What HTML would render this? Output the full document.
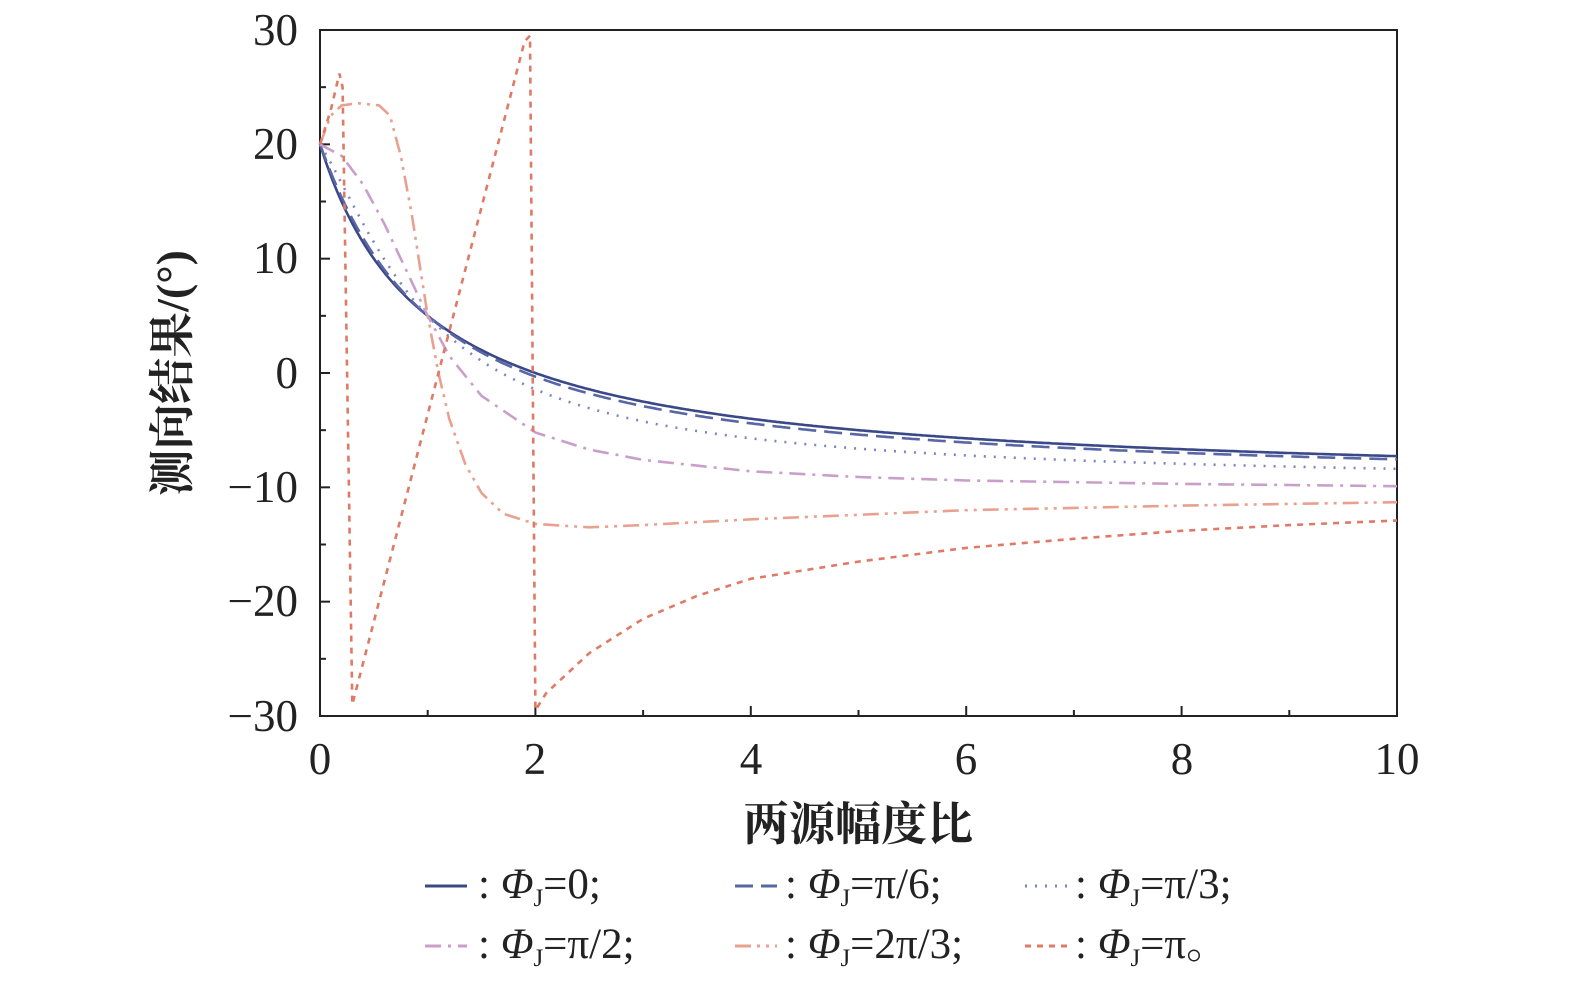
<!DOCTYPE html>
<html><head><meta charset="utf-8"><style>
html,body{margin:0;padding:0;background:#fff;}
svg{display:block;}
text{font-family:"Liberation Serif","Noto Serif CJK SC",serif;fill:#222;}
</style></head><body>
<svg id="s" width="1575" height="993" xmlns="http://www.w3.org/2000/svg">
<rect x="320" y="30" width="1077" height="686" fill="none" stroke="#222" stroke-width="2"/>
<g id="ticks" stroke="#222" stroke-width="2"></g>
<g id="curves" fill="none" stroke-width="2.6"></g>
<g font-size="45" text-anchor="end">
<text x="298" y="45">30</text><text x="298" y="159">20</text><text x="298" y="273">10</text>
<text x="298" y="388">0</text><text x="298" y="502">−10</text><text x="298" y="616">−20</text><text x="298" y="731">−30</text>
</g>
<g font-size="45" text-anchor="middle">
<text x="320" y="774">0</text><text x="535" y="774">2</text><text x="751" y="774">4</text>
<text x="966" y="774">6</text><text x="1182" y="774">8</text><text x="1397" y="774">10</text>
</g>
<text x="858" y="840" font-size="46" text-anchor="middle" font-family="Noto Serif CJK SC,serif" font-weight="bold">两源幅度比</text>
<text transform="translate(188,373) rotate(-90)" font-size="46" text-anchor="middle" font-family="Noto Serif CJK SC,serif" font-weight="bold">测向结果/(°)</text>
<g id="leg" fill="none" stroke-width="2.6"></g>
<g font-size="43">
<text x="478" y="898">: <tspan font-style="italic">Φ</tspan><tspan font-size="25" dy="8">J</tspan><tspan dy="-8">=0;</tspan></text>
<text x="785" y="898">: <tspan font-style="italic">Φ</tspan><tspan font-size="25" dy="8">J</tspan><tspan dy="-8">=π/6;</tspan></text>
<text x="1075" y="898">: <tspan font-style="italic">Φ</tspan><tspan font-size="25" dy="8">J</tspan><tspan dy="-8">=π/3;</tspan></text>
<text x="478" y="958">: <tspan font-style="italic">Φ</tspan><tspan font-size="25" dy="8">J</tspan><tspan dy="-8">=π/2;</tspan></text>
<text x="785" y="958">: <tspan font-style="italic">Φ</tspan><tspan font-size="25" dy="8">J</tspan><tspan dy="-8">=2π/3;</tspan></text>
<text x="1075" y="958">: <tspan font-style="italic">Φ</tspan><tspan font-size="25" dy="8">J</tspan><tspan dy="-8">=π。</tspan></text>
</g>
</svg>
<script>
const NS="http://www.w3.org/2000/svg";
const X=x=>320+x*107.7, Y=y=>373-y*11.433;
const tk=document.getElementById('ticks');
function ln(g,x1,y1,x2,y2,st){const l=document.createElementNS(NS,'line');l.setAttribute('x1',x1);l.setAttribute('y1',y1);l.setAttribute('x2',x2);l.setAttribute('y2',y2);if(st)for(const k in st)l.setAttribute(k,st[k]);g.appendChild(l);}
for(let i=0;i<=10;i++){const x=X(i);ln(tk,x,716,x,716-(i%2?6:10));}
for(let v=-30;v<=30;v+=5){const y=Y(v);ln(tk,320,y,320+(v%10?6:10),y);}
const styles=[
 {c:'#3a4888',d:''},{c:'#5866a6',d:'18 8'},{c:'#7a86c2',d:'2 8'},
 {c:'#c99fca',d:'16 7 3 7'},{c:'#e9a08e',d:'16 6 3 6 3 6'},{c:'#de7a66',d:'6 6'}];
const cg=document.getElementById('curves');
function path(pts,s){const p=document.createElementNS(NS,'path');p.setAttribute('d','M'+pts.map(q=>X(q[0]).toFixed(1)+','+Y(q[1]).toFixed(1)).join('L'));p.setAttribute('stroke',s.c);if(s.d)p.setAttribute('stroke-dasharray',s.d);cg.appendChild(p);}
function f(x,ph){const c=Math.cos(ph);return -10+30*(1+x*c)/(1+x*x+2*x*c);}
[0,Math.PI/6,Math.PI/3].forEach((ph,i)=>{const pts=[];for(let x=0;x<=10.001;x+=0.02)pts.push([x,f(x,ph)]);path(pts,styles[i]);});
function interp(k){const pts=[];for(let j=0;j<k.length-1;j++){const[a,b]=[k[j],k[j+1]];for(let t=0;t<1;t+=0.1)pts.push([a[0]+(b[0]-a[0])*t,a[1]+(b[1]-a[1])*t]);}pts.push(k[k.length-1]);return pts;}
path(interp([[0,20],[0.2,19],[0.4,16.5],[0.6,13],[0.8,9],[1,5],[1.2,1.5],[1.5,-2],[2,-5.2],[2.5,-6.7],[3,-7.6],[4,-8.6],[5,-9.1],[6,-9.4],[8,-9.7],[10,-9.9]]),styles[3]);
path(interp([[0,20],[0.1,22.5],[0.2,23.4],[0.35,23.6],[0.55,23.4],[0.65,22.5],[0.75,19],[0.85,14],[1,5],[1.1,0],[1.2,-4],[1.35,-8],[1.5,-10.5],[1.7,-12.3],[2,-13.2],[2.5,-13.5],[3,-13.3],[4,-12.8],[6,-12],[8,-11.6],[10,-11.3]]),styles[4]);
const piPts=[[0,20],[0.1,23],[0.18,26.2],[0.21,25],[0.3,-29],[1.9,29],[1.95,29.5],[2.0,-29.5],[2.1,-28],[2.5,-24.5],[3,-21.5],[3.5,-19.5],[4,-18],[5,-16.5],[6,-15.3],[7,-14.5],[8,-13.8],[9,-13.3],[10,-12.9]];
path(piPts,styles[5]);
const lg=document.getElementById('leg');
[[425,886],[735,886],[1025,886],[425,946],[735,946],[1025,946]].forEach((p,i)=>{ln(lg,p[0],p[1],p[0]+42,p[1],{stroke:styles[i].c,'stroke-dasharray':styles[i].d||'none','stroke-width':3});});
</script>
</body></html>
